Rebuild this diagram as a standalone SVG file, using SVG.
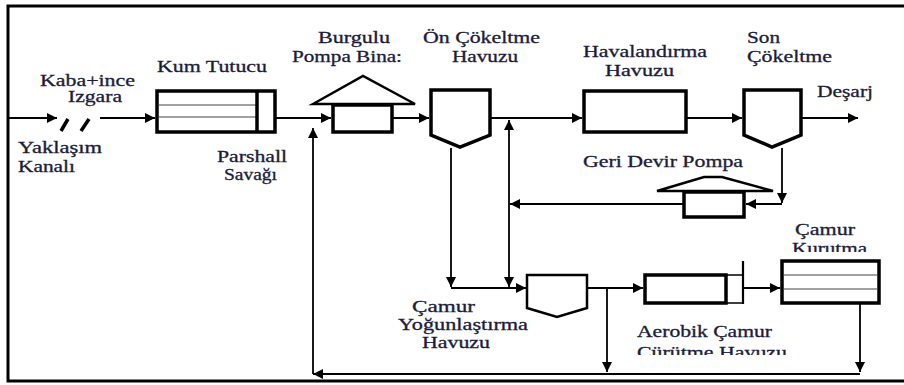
<svg xmlns="http://www.w3.org/2000/svg" width="904" height="385" viewBox="0 0 904 385">
<style>
text{font-family:"Liberation Serif","Times New Roman",serif;font-size:16px;fill:#1c1c3a;stroke:#1c1c3a;stroke-width:0.3}
.b{fill:#fff;stroke:#000;stroke-width:3.5}
.m{fill:#fff;stroke:#000;stroke-width:2.5}
.in{stroke:#444;stroke-width:1.2;fill:none}
.c{stroke:#000;stroke-width:1.8;fill:none}
.a{marker-end:url(#ah)}
</style>
<defs>
<marker id="ah" markerUnits="userSpaceOnUse" markerWidth="11" markerHeight="10" refX="10" refY="5" orient="auto">
<path d="M0,0 L10,5 L0,10 z" fill="#000"/>
</marker>
<clipPath id="clipK"><rect x="0" y="0" width="904" height="252"/></clipPath>
<clipPath id="clipC"><rect x="0" y="0" width="904" height="355"/></clipPath>
</defs>
<rect x="8" y="6" width="902" height="375" fill="none" stroke="#000" stroke-width="3"/>
<g id="connectors">
<path class="c a" d="M8,118 H57"/>
<path d="M61,131 L68,119 M81,131 L89,119" stroke="#000" stroke-width="3.5"/>
<path class="c a" d="M100,118 H155"/>
<path class="c a" d="M276,118 H331"/>
<path class="c a" d="M392,118 H429"/>
<path class="c a" d="M490,118 H582"/>
<path class="c a" d="M686,118 H742"/>
<path class="c a" d="M801,118 H858"/>
<path class="c a" d="M782,148 V203"/>
<path class="c a" d="M782,204 H746"/>
<path class="c a" d="M683,204 H510"/>
<path class="c a" d="M509,204 V120"/>
<path class="c a" d="M509,204 V287"/>
<path class="c a" d="M451,148 V287"/>
<path class="c a" d="M451,288 H526"/>
<path class="c a" d="M587,288 H643"/>
<path class="c a" d="M607,288 V372"/>
<path class="c a" d="M743,288 H780"/>
<path class="c a" d="M860,303 V372"/>
<path class="c a" d="M860,374 H313"/>
<path class="c a" d="M313,374 V128"/>
</g>
<g id="izgara">
<text x="40" y="86" textLength="95" lengthAdjust="spacingAndGlyphs">Kaba+ince</text>
<text x="68" y="102" textLength="54" lengthAdjust="spacingAndGlyphs">Izgara</text>
</g>
<g id="yaklasim">
<text x="18" y="153" textLength="84" lengthAdjust="spacingAndGlyphs">Yaklaşım</text>
<text x="18" y="172" textLength="57" lengthAdjust="spacingAndGlyphs">Kanalı</text>
</g>
<g id="kum-tutucu">
<rect class="b" x="157" y="91" width="118" height="41"/>
<path class="in" d="M158,105 H257 M158,117 H257"/>
<path d="M257,91 V132" stroke="#000" stroke-width="3.5"/>
<text x="157" y="72" textLength="110" lengthAdjust="spacingAndGlyphs">Kum Tutucu</text>
</g>
<g id="parshall">
<text x="217" y="162" textLength="70" lengthAdjust="spacingAndGlyphs">Parshall</text>
<text x="224" y="180" textLength="53" lengthAdjust="spacingAndGlyphs">Savağı</text>
</g>
<g id="burgulu-pompa">
<polygon class="m" points="313,104 363,76 415,104"/>
<rect class="b" x="333" y="105" width="59" height="27"/>
<text x="318" y="43" textLength="72" lengthAdjust="spacingAndGlyphs">Burgulu</text>
<text x="292" y="62" textLength="110" lengthAdjust="spacingAndGlyphs">Pompa Bina:</text>
</g>
<g id="on-cokeltme">
<polygon class="b" points="431,90 490,90 490,135 460,147 431,135" stroke-width="3"/>
<text x="423" y="43" textLength="117" lengthAdjust="spacingAndGlyphs">Ön Çökeltme</text>
<text x="452" y="62" textLength="66" lengthAdjust="spacingAndGlyphs">Havuzu</text>
</g>
<g id="havalandirma">
<rect class="b" x="584" y="91" width="102" height="41" stroke-width="4"/>
<text x="583" y="57" textLength="124" lengthAdjust="spacingAndGlyphs">Havalandırma</text>
<text x="605" y="76" textLength="69" lengthAdjust="spacingAndGlyphs">Havuzu</text>
</g>
<g id="son-cokeltme">
<polygon class="b" points="744,90 801,90 801,135 772,147 744,135" stroke-width="3"/>
<text x="747" y="43" textLength="33" lengthAdjust="spacingAndGlyphs">Son</text>
<text x="747" y="62" textLength="85" lengthAdjust="spacingAndGlyphs">Çökeltme</text>
</g>
<g id="desarj">
<text x="817" y="97" textLength="56" lengthAdjust="spacingAndGlyphs">Deşarj</text>
</g>
<g id="geri-devir-pompa">
<polygon class="m" points="657,191 704,177 722,177 773,191" stroke-width="2"/>
<rect class="b" x="684" y="192" width="60" height="25"/>
<text x="583" y="167" textLength="160" lengthAdjust="spacingAndGlyphs">Geri Devir Pompa</text>
</g>
<g id="camur-yogunlastirma">
<polygon class="m" points="527,275 587,275 587,308 557,317 527,308"/>
<text x="412" y="312" textLength="63" lengthAdjust="spacingAndGlyphs">Çamur</text>
<text x="398" y="330" textLength="130" lengthAdjust="spacingAndGlyphs">Yoğunlaştırma</text>
<text x="422" y="348" textLength="68" lengthAdjust="spacingAndGlyphs">Havuzu</text>
</g>
<g id="aerobik">
<rect class="b" x="645" y="275" width="81" height="28"/>
<path d="M726,275 H743 M726,303 H743" stroke="#000" stroke-width="1.5"/>
<path d="M743,261 V304" stroke="#000" stroke-width="2.2"/>
<text x="637" y="337" textLength="135" lengthAdjust="spacingAndGlyphs">Aerobik Çamur</text>
<text x="637" y="358" textLength="150" lengthAdjust="spacingAndGlyphs" clip-path="url(#clipC)">Çürütme Havuzu</text>
</g>
<g id="camur-kurutma">
<rect class="b" x="782" y="261" width="97" height="42" stroke-width="4"/>
<path class="in" d="M784,275 H877 M784,289 H877"/>
<text x="795" y="235" textLength="60" lengthAdjust="spacingAndGlyphs">Çamur</text>
<text x="792" y="254" textLength="75" lengthAdjust="spacingAndGlyphs" clip-path="url(#clipK)">Kurutma</text>
</g>
</svg>
